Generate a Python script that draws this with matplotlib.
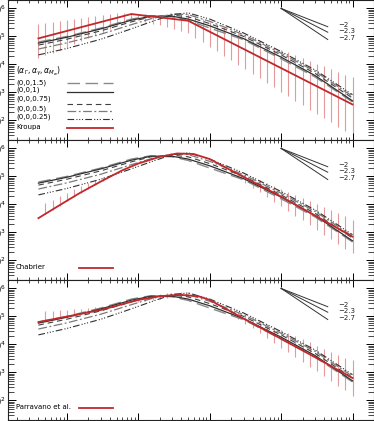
import numpy as np
import matplotlib
matplotlib.use("Agg")
import matplotlib.pyplot as plt

# ---- data (log10 of dN/dlogM) ----
mass_nodes = [0.004, 0.01, 0.03, 0.08, 0.15, 0.3, 0.5, 1, 3, 10, 30, 100]
model_labels = ["(0,0,1.5)", "(0,0,1)", "(0,0,0.75)", "(0,0,0.5)", "(0,0,0.25)"]
model_a15 = [4.80, 5.00, 5.30, 5.62, 5.74, 5.70, 5.57, 5.30, 4.88, 4.20, 3.55, 2.66]
model_a10 = [4.76, 4.97, 5.27, 5.58, 5.72, 5.72, 5.62, 5.38, 4.92, 4.26, 3.60, 2.70]
model_a075 = [4.69, 4.90, 5.20, 5.52, 5.70, 5.76, 5.70, 5.46, 5.00, 4.34, 3.68, 2.80]
model_a05 = [4.55, 4.77, 5.08, 5.42, 5.63, 5.80, 5.78, 5.54, 5.06, 4.40, 3.75, 2.86]
model_a025 = [4.34, 4.57, 4.90, 5.27, 5.52, 5.78, 5.84, 5.62, 5.12, 4.46, 3.80, 2.92]

kroupa_m = [0.004, 0.08, 0.5, 100]
kroupa_v = [4.93, 5.80, 5.56, 2.57]
chabrier_m = [0.004, 0.008, 0.015, 0.03, 0.06, 0.1, 0.2, 0.35, 0.6, 1, 3, 10, 30, 100]
chabrier_v = [3.51, 3.98, 4.40, 4.82, 5.22, 5.46, 5.70, 5.82, 5.80, 5.62, 4.98, 4.28, 3.60, 2.85]
parravano_m = [0.004, 0.03, 0.1, 0.2, 0.38, 0.7, 1, 3, 10, 30, 100]
parravano_v = [4.80, 5.23, 5.59, 5.72, 5.77, 5.72, 5.59, 4.92, 4.20, 3.54, 2.80]

# error bars: log10 mass, low and high (log10)
kroupa_bar_logm = [-2.4, -2.3, -2.2, -2.1, -2.0, -1.9, -1.8, -1.7, -1.6, -1.5, -1.4, -1.3, -1.2, -1.1, -1.0,
                   -0.9, -0.8, -0.7, -0.6, -0.5, -0.4, -0.3, -0.2, -0.1, 0.0, 0.1, 0.2, 0.3, 0.4, 0.5,
                   0.6, 0.7, 0.8, 0.9, 1.0, 1.1, 1.2, 1.3, 1.4, 1.5, 1.6, 1.7, 1.8, 1.9, 2.0]
kroupa_bar_hi = [5.44, 5.48, 5.51, 5.55, 5.59, 5.63, 5.66, 5.70, 5.74, 5.77, 5.81, 5.83, 5.83, 5.85, 5.81,
                 5.79, 5.78, 5.78, 5.78, 5.79, 5.80, 5.81, 5.72, 5.63, 5.53, 5.43, 5.33, 5.23, 5.13, 5.03,
                 4.93, 4.83, 4.73, 4.63, 4.53, 4.43, 4.33, 4.23, 4.13, 4.03, 3.93, 3.83, 3.73, 3.64, 3.56]
kroupa_bar_lo = [4.22, 4.32, 4.41, 4.51, 4.62, 4.72, 4.82, 4.93, 5.04, 5.14, 5.25, 5.37, 5.48, 5.60, 5.57,
                 5.52, 5.46, 5.40, 5.33, 5.26, 5.19, 5.11, 4.95, 4.79, 4.63, 4.47, 4.31, 4.15, 3.99, 3.83,
                 3.67, 3.51, 3.35, 3.19, 3.03, 2.87, 2.71, 2.55, 2.39, 2.23, 2.08, 1.93, 1.78, 1.62, 1.47]

chabrier_bar_logm = [-2.3, -2.2, -2.1, -2.0, -1.9, -1.8, -1.7, -1.6, -1.5,
                     0.3, 0.4, 0.5, 0.6, 0.7, 0.8, 0.9, 1.0, 1.1, 1.2, 1.3, 1.4, 1.5, 1.6, 1.7, 1.8, 1.9, 2.0]
chabrier_bar_hi = [4.05, 4.17, 4.30, 4.42, 4.54, 4.66, 4.78, 4.88, 4.97,
                   5.31, 5.20, 5.09, 4.98, 4.88, 4.77, 4.66, 4.55, 4.44, 4.33, 4.23, 4.12, 4.01, 3.90, 3.79,
                   3.68, 3.58, 3.46]
chabrier_bar_lo = [3.65, 3.81, 3.96, 4.11, 4.26, 4.41, 4.55, 4.69, 4.83,
                   5.11, 4.94, 4.77, 4.60, 4.44, 4.27, 4.10, 3.93, 3.76, 3.59, 3.43, 3.26, 3.09, 2.92, 2.75,
                   2.58, 2.42, 2.26]

parravano_bar_logm = [-2.3, -2.2, -2.1, -2.0, -1.9, -1.8, -1.7, -1.6, -1.5,
                      -1.0, -0.9, -0.8, -0.7, -0.6, -0.5, -0.4, -0.3,
                      0.3, 0.4, 0.5, 0.6, 0.7, 0.8, 0.9, 1.0, 1.1, 1.2, 1.3, 1.4, 1.5, 1.6, 1.7, 1.8, 1.9, 2.0]
parravano_bar_hi = [5.18, 5.20, 5.22, 5.24, 5.26, 5.28, 5.30, 5.32, 5.34,
                    5.66, 5.71, 5.76, 5.80, 5.83, 5.85, 5.86, 5.86,
                    5.28, 5.17, 5.06, 4.95, 4.84, 4.73, 4.62, 4.51, 4.40, 4.29, 4.18, 4.07, 3.96, 3.85, 3.74,
                    3.63, 3.52, 3.43]
parravano_bar_lo = [4.83, 4.88, 4.93, 4.98, 5.03, 5.08, 5.13, 5.18, 5.23,
                    5.50, 5.55, 5.60, 5.64, 5.67, 5.69, 5.70, 5.70,
                    5.08, 4.91, 4.74, 4.57, 4.40, 4.23, 4.06, 3.89, 3.72, 3.55, 3.38, 3.21, 3.04, 2.87, 2.70,
                    2.53, 2.36, 2.17]

slopes = [-2, -2.3, -2.7]
slope_labels = ["\u22122", "\u22122.3", "\u22122.7"]

panels = [
    ("Kroupa", kroupa_m, kroupa_v, kroupa_bar_logm, kroupa_bar_lo, kroupa_bar_hi),
    ("Chabrier", chabrier_m, chabrier_v, chabrier_bar_logm, chabrier_bar_lo, chabrier_bar_hi),
    ("Parravano et al.", parravano_m, parravano_v, parravano_bar_logm, parravano_bar_lo, parravano_bar_hi),
]

models = [model_a15, model_a10, model_a075, model_a05, model_a025]
styles = [
    dict(color="#8a8a8a", ls=(0, (9, 4)), lw=1.0),
    dict(color="#303030", ls="-", lw=0.9),
    dict(color="#404040", ls=(0, (5, 3.5)), lw=0.8),
    dict(color="#7a7a7a", ls=(0, (7, 2, 1.5, 2)), lw=0.9),
    dict(color="#303030", ls=(0, (6, 2, 1, 1.5, 1, 1.5, 1, 2)), lw=0.8),
]
red = "#c0282c"
pink = "#e49a9a"
fs = 5

plt.rcParams['font.family'] = ['DejaVu Sans']
fig = plt.figure(figsize=(3.74, 4.21), dpi=100)
W, H = 374.0, 421.0
x0, x1 = 8, 374

for i, (name, rm, rv, blm, blo, bhi) in enumerate(panels):
    top = 140 * i
    ax = fig.add_axes([x0 / W, (H - top - 140) / H, (x1 - x0) / W, 140 / H])
    ax.set_xscale("log")
    ax.set_yscale("log")
    ax.set_xlim(0.0015, 200)
    ax.set_ylim(20, 2e6)

    # error bars
    bm = 10 ** np.array(blm)
    ax.vlines(bm, 10 ** np.array(blo), 10 ** np.array(bhi), color=pink, lw=0.8, zorder=1)

    for vals, st in zip(models, styles):
        ax.plot(mass_nodes, 10 ** np.array(vals), zorder=2, **st)
    ax.plot(rm, 10 ** np.array(rv), color=red, lw=1.3, zorder=3)

    # reference slopes
    m0, m1 = 10.0, 45.0
    for s, lab in zip(slopes, slope_labels):
        yend = 1e6 * (m1 / m0) ** (s + 1)
        ax.plot([m0, m1], [1e6, yend], color="#333333", lw=0.7)
        ax.text(63, yend * 1.12, lab, fontsize=fs, va="center", ha="left", color="#222222")

    # legend drawn by hand
    if i == 0:
        ax.text(0.022, 0.493, r"$(\alpha_\Gamma,\alpha_\gamma,\alpha_{M_w})$", transform=ax.transAxes,
                fontsize=fs + 0.5, va="center")
        ty = [0.407, 0.357, 0.293, 0.221, 0.164]
        ly = [0.407, 0.343, 0.257, 0.207, 0.150]
        for lab, st, a, b in zip(model_labels, styles, ty, ly):
            ax.text(0.022, a, lab, transform=ax.transAxes, fontsize=fs, va="center")
            ax.plot([0.161, 0.287], [b, b], transform=ax.transAxes, **st)
        ax.text(0.022, 0.093, name, transform=ax.transAxes, fontsize=fs, va="center")
        ax.plot([0.161, 0.287], [0.086, 0.086], transform=ax.transAxes, color=red, lw=1.3)
    else:
        ax.text(0.022, 0.093, name, transform=ax.transAxes, fontsize=fs, va="center")
        ax.plot([0.194, 0.287], [0.086, 0.086], transform=ax.transAxes, color=red, lw=1.3)

    ax.set_yticks([1e2, 1e3, 1e4, 1e5, 1e6])
    ax.set_yticklabels([r"$10^2$", r"$10^3$", r"$10^4$", r"$10^5$", r"$10^6$"])
    ax.tick_params(axis="y", which="both", direction="in", left=True, right=True, labelsize=6, pad=1.5)
    ax.tick_params(axis="y", which="major", length=6, width=0.7)
    ax.tick_params(axis="y", which="minor", length=4.5, width=0.5)
    ax.tick_params(axis="x", which="both", direction="in", top=True, bottom=True, labelbottom=False)
    ax.tick_params(axis="x", which="major", length=5, width=0.7)
    ax.tick_params(axis="x", which="minor", length=2.5, width=0.5)
    for sp in ax.spines.values():
        sp.set_linewidth(0.8)
        sp.set_color("#222222")

fig.savefig("out.png", dpi=100)
